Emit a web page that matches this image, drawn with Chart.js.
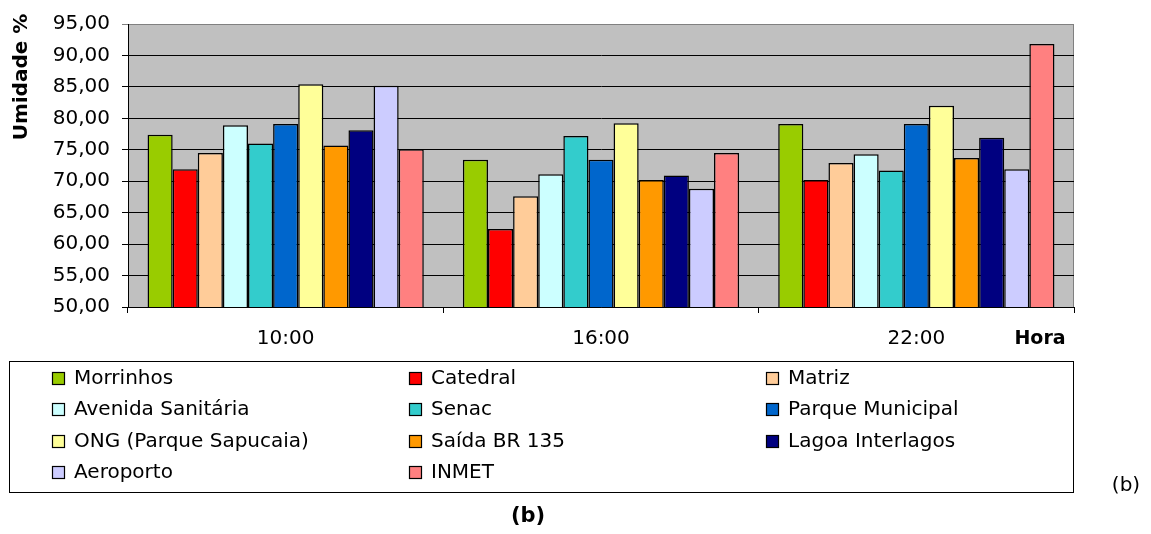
<!DOCTYPE html>
<html>
<head>
<meta charset="utf-8">
<script src="https://cdn.jsdelivr.net/npm/chart.js@4.4.1/dist/chart.umd.min.js"></script>
<style>
  html, body { margin: 0; padding: 0; background: #fff; }
  #wrap { width: 1151px; height: 534px; position: relative; }
</style>
</head>
<body>
<div id="wrap"><canvas id="c" width="1151" height="534"></canvas></div>
<script>
// ---- data ----
const hours = ["10:00", "16:00", "22:00"];
const yTicks = [50, 55, 60, 65, 70, 75, 80, 85, 90, 95];
const stationNames = ["Morrinhos", "Catedral", "Matriz", "Avenida Sanitária", "Senac",
  "Parque Municipal", "ONG (Parque Sapucaia)", "Saída BR 135", "Lagoa Interlagos", "Aeroporto", "INMET"];
const morrinhos = [77.4, 73.4, 79.1];
const catedral = [71.9, 62.4, 70.2];
const matriz = [74.5, 67.6, 72.9];
const avenidaSanitaria = [78.9, 71.1, 74.3];
const senac = [76.0, 77.2, 71.7];
const parqueMunicipal = [79.1, 73.4, 79.1];
const ong = [85.4, 79.2, 82.0];
const saidaBR135 = [75.7, 70.2, 73.7];
const lagoaInterlagos = [78.1, 70.9, 76.9];
const aeroporto = [85.2, 68.8, 71.9];
const inmet = [75.1, 74.5, 91.8];
const seriesValues = [morrinhos, catedral, matriz, avenidaSanitaria, senac, parqueMunicipal,
  ong, saidaBR135, lagoaInterlagos, aeroporto, inmet];
const colors = ["#99CC00", "#FF0000", "#FFCC99", "#CCFFFF", "#33CCCC", "#0066CC",
  "#FFFF99", "#FF9900", "#000080", "#CCCCFF", "#FF8080"];

const FONT = "'DejaVu Sans', sans-serif";

const datasets = stationNames.map((n, i) => ({
  label: n,
  data: seriesValues[i],
  backgroundColor: colors[i],
  borderColor: "#000",
  borderWidth: 1.5,
  borderSkipped: false,
  categoryPercentage: 0.876,
  barPercentage: 1.0
}));

const decor = {
  id: "decor",
  beforeDraw(chart) {
    const { ctx, chartArea: a } = chart;
    ctx.save();
    ctx.fillStyle = "#C0C0C0";
    ctx.fillRect(a.left, a.top, a.right - a.left, a.bottom - a.top);
    ctx.strokeStyle = "#808080";
    ctx.lineWidth = 1;
    ctx.beginPath();
    ctx.moveTo(a.left, a.top + 0.5);
    ctx.lineTo(a.right - 0.5, a.top + 0.5);
    ctx.lineTo(a.right - 0.5, a.bottom);
    ctx.stroke();
    ctx.restore();
  },
  afterDraw(chart) {
    const { ctx } = chart;
    ctx.save();
    // y-axis title
    ctx.fillStyle = "#000";
    ctx.font = "bold 20px " + FONT;
    ctx.translate(22, 77);
    ctx.rotate(-Math.PI / 2);
    ctx.textAlign = "center";
    ctx.textBaseline = "middle";
    ctx.fillText("Umidade %", 0, 0);
    ctx.setTransform(1, 0, 0, 1, 0, 0);
    // x-axis title
    ctx.font = "bold 19px " + FONT;
    ctx.textAlign = "center";
    ctx.fillText("Hora", 1040, 339);
    // legend box
    ctx.strokeStyle = "#000";
    ctx.lineWidth = 1;
    ctx.strokeRect(9.5, 361.5, 1064, 131);
    const colX = [52, 409, 766];
    const rowY = [378, 409, 441, 472];
    ctx.font = "20px " + FONT;
    ctx.textAlign = "left";
    chart.data.datasets.forEach((ds, i) => {
      const c = i % 3, r = Math.floor(i / 3);
      const x = colX[c], y = rowY[r];
      ctx.fillStyle = ds.backgroundColor;
      ctx.fillRect(x, y - 6, 13, 13);
      ctx.strokeStyle = "#000";
      ctx.lineWidth = 1.2;
      ctx.strokeRect(x + 0.5, y - 5.5, 12, 12);
      ctx.fillStyle = "#000";
      ctx.fillText(ds.label, x + 22, y + 1);
    });
    // labels "(b)"
    ctx.font = "20px " + FONT;
    ctx.textAlign = "center";
    ctx.fillText("(b)", 1126, 486);
    ctx.font = "bold 21px " + FONT;
    ctx.fillText("(b)", 528, 517);
    ctx.restore();
  }
};

new Chart(document.getElementById("c"), {
  type: "bar",
  data: { labels: hours, datasets },
  plugins: [decor],
  options: {
    responsive: false,
    animation: false,
    devicePixelRatio: 1,
    layout: { padding: { left: 0, right: 77, top: 24, bottom: 182 } },
    plugins: { legend: { display: false }, tooltip: { enabled: false } },
    scales: {
      x: {
        afterFit(s) { s.height = 45; },
        grid: { offset: true, drawOnChartArea: false, color: "#000", tickLength: 6 },
        border: { color: "#000", width: 1 },
        ticks: { color: "#000", font: { family: FONT, size: 20 }, padding: 14 }
      },
      y: {
        min: 50, max: 95,
        afterFit(s) { s.width = 128; },
        afterBuildTicks(s) { s.ticks = yTicks.map(v => ({ value: v })); },
        grid: {
          color: ctx => (ctx.tick && ctx.tick.value === 95) ? "#808080" : "#000",
          tickLength: 6, lineWidth: 1
        },
        border: { color: "#000", width: 1 },
        ticks: {
          color: "#000", font: { family: FONT, size: 20 }, padding: 12,
          callback: v => Number(v).toFixed(2).replace(".", ",")
        }
      }
    }
  }
});
</script>
</body>
</html>
